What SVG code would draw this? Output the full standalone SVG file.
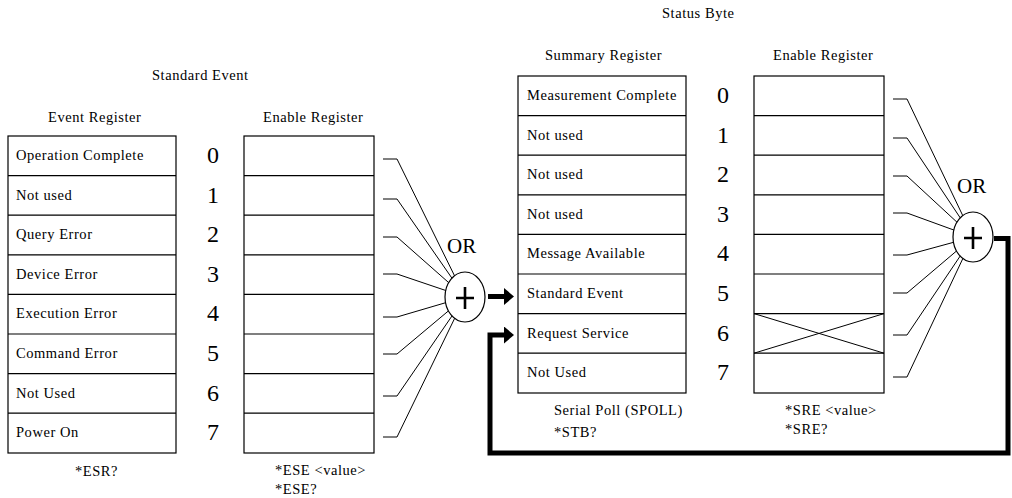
<svg xmlns="http://www.w3.org/2000/svg" width="1012" height="498" viewBox="0 0 1012 498">
<defs>
<style>
text{font-family:"Liberation Serif","Times New Roman",serif;fill:#000}
.t{font-size:14.5px;letter-spacing:0.55px}
.n{font-size:24px;text-anchor:middle}
.or{font-size:21px}
.box{fill:#fff;stroke:#000;stroke-width:1.2}
.row{stroke:#000;stroke-width:1.2}
.w{fill:none;stroke:#000;stroke-width:1}
.gate{fill:#fff;stroke:#000;stroke-width:1.2}
.plus{stroke:#000;stroke-width:2.6}
.thick{fill:none;stroke:#000;stroke-width:5;stroke-linejoin:miter}
</style>
<marker id="ah" viewBox="0 0 10 17" refX="0" refY="8.5" markerWidth="10" markerHeight="17" markerUnits="userSpaceOnUse" orient="auto">
<path d="M0,0 L10,8.5 L0,17 Z" fill="#000"/>
</marker>
</defs>
<rect width="1012" height="498" fill="#fff"/>

<text class="t" x="152" y="80">Standard Event</text>
<text class="t" x="662" y="18">Status Byte</text>

<g id="event-register">
<text class="t" x="48" y="122">Event Register</text>
<rect class="box" x="8" y="136" width="168" height="317"/>
<path class="row" d="M8,175.6H176M8,215.2H176M8,254.8H176M8,294.4H176M8,334H176M8,373.6H176M8,413.2H176"/>
<text class="t" x="16" y="160">Operation Complete</text>
<text class="t" x="16" y="200">Not used</text>
<text class="t" x="16" y="239">Query Error</text>
<text class="t" x="16" y="279">Device Error</text>
<text class="t" x="16" y="318">Execution Error</text>
<text class="t" x="16" y="358">Command Error</text>
<text class="t" x="16" y="398">Not Used</text>
<text class="t" x="16" y="437">Power On</text>
<text class="t" x="75" y="476">*ESR?</text>
</g>

<g id="event-bits">
<text class="n" x="213" y="163">0</text>
<text class="n" x="213" y="203">1</text>
<text class="n" x="213" y="242">2</text>
<text class="n" x="213" y="282">3</text>
<text class="n" x="213" y="321">4</text>
<text class="n" x="213" y="361">5</text>
<text class="n" x="213" y="401">6</text>
<text class="n" x="213" y="440">7</text>
</g>

<g id="event-enable">
<text class="t" x="263" y="122">Enable Register</text>
<rect class="box" x="244" y="136" width="130" height="317"/>
<path class="row" d="M244,175.6H374M244,215.2H374M244,254.8H374M244,294.4H374M244,334H374M244,373.6H374M244,413.2H374"/>
<text class="t" x="275" y="475">*ESE &lt;value&gt;</text>
<text class="t" x="275" y="494">*ESE?</text>
</g>

<g id="summary-register">
<text class="t" x="545" y="60">Summary Register</text>
<rect class="box" x="518" y="76" width="168" height="317"/>
<path class="row" d="M518,115.6H686M518,155.2H686M518,194.8H686M518,234.4H686M518,274H686M518,313.6H686M518,353.2H686"/>
<text class="t" x="527" y="100">Measurement Complete</text>
<text class="t" x="527" y="140">Not used</text>
<text class="t" x="527" y="179">Not used</text>
<text class="t" x="527" y="219">Not used</text>
<text class="t" x="527" y="258">Message Available</text>
<text class="t" x="527" y="298">Standard Event</text>
<text class="t" x="527" y="338">Request Service</text>
<text class="t" x="527" y="377">Not Used</text>
<text class="t" x="554" y="415">Serial Poll (SPOLL)</text>
<text class="t" x="554" y="437">*STB?</text>
</g>

<g id="status-bits">
<text class="n" x="723" y="103">0</text>
<text class="n" x="723" y="143">1</text>
<text class="n" x="723" y="182">2</text>
<text class="n" x="723" y="222">3</text>
<text class="n" x="723" y="261">4</text>
<text class="n" x="723" y="301">5</text>
<text class="n" x="723" y="341">6</text>
<text class="n" x="723" y="380">7</text>
</g>

<g id="status-enable">
<text class="t" x="773" y="60">Enable Register</text>
<rect class="box" x="754" y="76" width="130" height="317"/>
<path class="row" d="M754,115.6H884M754,155.2H884M754,194.8H884M754,234.4H884M754,274H884M754,313.6H884M754,353.2H884"/>
<path class="w" d="M754,313.6L884,353.2M754,353.2L884,313.6"/>
<text class="t" x="785" y="415">*SRE &lt;value&gt;</text>
<text class="t" x="785" y="434">*SRE?</text>
</g>

<g id="connectors">
<path class="w" d="M383,159H397L465,297M383,199H397L465,297M383,237H397L465,297M383,274H397L465,297M383,317H397L465,297M383,354H397L465,297M383,396H397L465,297M383,437H397L465,297"/>
<path class="w" d="M893,99H907L973,237M893,138H907L973,237M893,176H907L973,237M893,213H907L973,237M893,255H907L973,237M893,293H907L973,237M893,335H907L973,237M893,377H907L973,237"/>
<path class="thick" d="M488,296.5H504" marker-end="url(#ah)"/>
<path class="thick" d="M994,238.5H1008V453H490V335H504" marker-end="url(#ah)"/>
</g>

<g id="or-event">
<text class="or" x="447" y="253">OR</text>
<ellipse class="gate" cx="465" cy="297" rx="20" ry="25"/>
<path class="plus" d="M456,298H474M465,287V309"/>
</g>

<g id="or-status">
<text class="or" x="957" y="193">OR</text>
<ellipse class="gate" cx="973" cy="237" rx="20" ry="25"/>
<path class="plus" d="M964,238H982M973,227V249"/>
</g>
</svg>
